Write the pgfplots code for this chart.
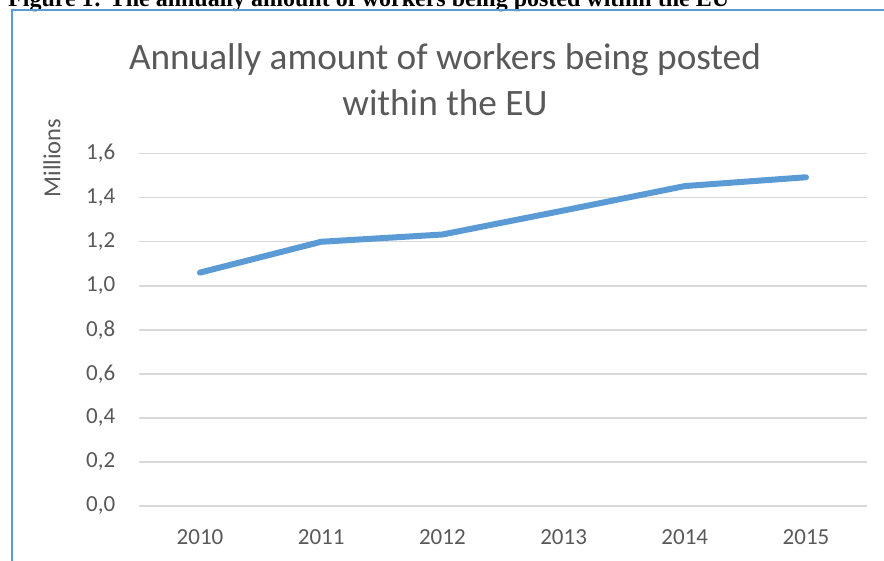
\documentclass[border=0pt]{standalone}
\usepackage{fontspec}
\setmainfont{Carlito}
\newfontfamily\capfont{Liberation Serif}
\usepackage{pgfplots}
\pgfplotsset{compat=1.18}
\definecolor{txtgray}{HTML}{595959}
\definecolor{gridgray}{HTML}{D9D9D9}
\definecolor{lineblue}{HTML}{5B9BD5}
\begin{document}
\begin{tikzpicture}
\useasboundingbox (0,0) rectangle (884pt,-561pt);
\clip (0,0) rectangle (884pt,-561pt);
\node[anchor=base west, inner sep=0pt, font=\capfont\bfseries\fontsize{24}{28}\selectfont] at (8pt,-7pt) {Figure 1: The annually amount of workers being posted within the EU};
\draw[lineblue, line width=2pt] (12pt,-600pt) -- (12pt,-10pt) -- (900pt,-10pt);
\node[anchor=base, inner sep=0pt, text=txtgray, font=\fontsize{37.3}{44}\selectfont] at (445pt,-69.5pt) {Annually amount of workers being posted};
\node[anchor=base, inner sep=0pt, text=txtgray, font=\fontsize{37.3}{44}\selectfont] at (445pt,-116pt) {within the EU};
\node[rotate=90, inner sep=0pt, text=txtgray, font=\fontsize{24.5}{28}\selectfont] at (52pt,-158pt) {Millions};
\begin{axis}[
  at={(139.4pt,-506pt)}, anchor=south west,
  scale only axis, width=727.2pt, height=352.3pt,
  xmin=2009.5, xmax=2015.5, ymin=0, ymax=1.6,
  xtick={2010,2011,2012,2013,2014,2015},
  xticklabels={2010,2011,2012,2013,2014,2015},
  ytick={0,0.2,0.4,0.6,0.8,1.0,1.2,1.4,1.6},
  yticklabels={{0,0},{0,2},{0,4},{0,6},{0,8},{1,0},{1,2},{1,4},{1,6}},
  axis line style={draw=none},
  tick style={draw=none},
  major tick length=0pt,
  ymajorgrids,
  grid style={gridgray, line width=1.4pt},
  ticklabel style={text=txtgray, font=\fontsize{23}{27}\selectfont, inner sep=0pt},
  yticklabel style={anchor=east, xshift=-24pt},
  xticklabel style={anchor=north, yshift=-23pt},
  clip=false,
]
\addplot[lineblue, line width=6pt, line cap=round, line join=round] coordinates {
(2010,1.06) (2011,1.20) (2012,1.233) (2013,1.342) (2014,1.453) (2015,1.493)
};
\end{axis}
\end{tikzpicture}
\end{document}
